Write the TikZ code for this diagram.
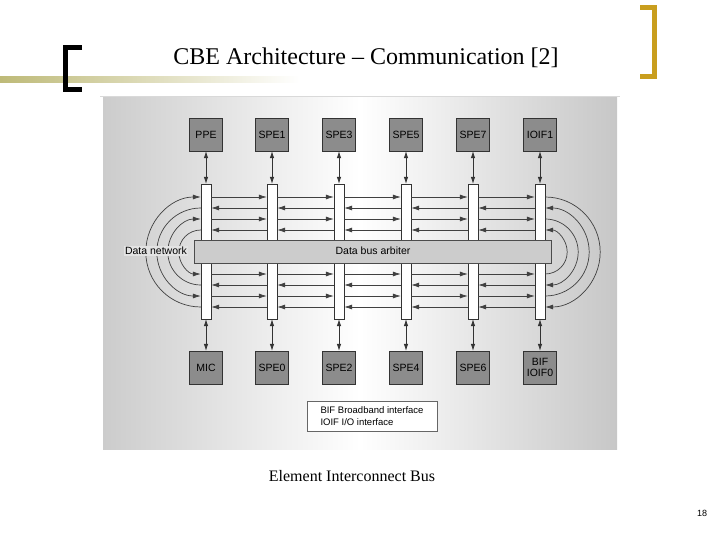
\documentclass[tikz,border=0pt]{standalone}
\usepackage{fontspec}
\setmainfont{Liberation Serif}
\newfontfamily\diagfont{Liberation Sans}
\usetikzlibrary{arrows.meta}
\definecolor{olivebar}{RGB}{190,186,120}
\definecolor{goldbr}{RGB}{201,158,30}
\definecolor{boxgray}{RGB}{140,140,140}
\tikzset{
  unit/.style={draw=black!80,fill=boxgray,minimum width=33pt,minimum height=33pt,
    inner sep=0pt,font=\diagfont\fontsize{10.5}{11.5}\selectfont,align=center},
  busbar/.style={draw=black!80,fill=white,minimum width=10pt,minimum height=135pt,inner sep=0pt},
  ring/.style={draw=black!75,line width=.7pt},
  tip/.style={-{Latex[length=8pt,width=5pt]}},
  twotip/.style={{Latex[length=7pt,width=4.5pt]}-{Latex[length=7pt,width=4.5pt]},draw=black!80,line width=.7pt}
}
\begin{document}
\begin{tikzpicture}[x=1pt,y=-1pt]
  \useasboundingbox (0,0) rectangle (720,540);

  % Titre et cadre
  \shade[left color=olivebar,right color=white] (0,77) rectangle (300,83);
  \draw[black!15,line width=.8pt] (100,96) -- (620,96);
  \draw[line width=5pt] (82,48) -- (65.5,48) -- (65.5,90) -- (82,90);
  \draw[goldbr,line width=5pt] (640,8) -- (654.5,8) -- (654.5,77) -- (640,77);
  \node (title) at (366,58) {\fontsize{24}{26}\selectfont CBE Architecture -- Communication [2]};

  % Fond du schéma
  \shade[left color=black!20,right color=black!22,middle color=white] (103,98) rectangle (617,449);

  % Unités, barres et flèches verticales
  \foreach \i/\x/\top/\bot in {1/206/PPE/MIC,2/272/SPE1/SPE0,3/339/SPE3/SPE2,
                               4/406/SPE5/SPE4,5/473/SPE7/SPE6,6/540/IOIF1/{BIF\\IOIF0}}{
    \node[unit] (t\i) at (\x,134.5) {\top};
    \node[unit] (b\i) at (\x,367.5) {\bot};
    \node[busbar] (bar\i) at (\x,251.5) {};
    \draw[twotip] (t\i.south) -- (bar\i.north);
    \draw[twotip] (bar\i.south) -- (b\i.north);
  }

  % Arbitre
  \node[draw=black!70,fill=black!20,minimum width=357pt,minimum height=23pt,inner sep=0pt]
    (arb) at (373,252) {};
  \node[font=\diagfont\fontsize{10.5}{11.5}\selectfont] (arbtxt) at (373,251) {Data bus arbiter};

  % Anneaux horizontaux
  \foreach \y in {197,219,274,296}{
    \foreach \i [evaluate=\i as \j using int(\i+1)] in {1,...,5}
      \draw[ring,tip] (bar\i.east |- 0,\y) -- (bar\j.west |- 0,\y);
  }
  \foreach \y in {208,230,285,307}{
    \foreach \i [evaluate=\i as \j using int(\i+1)] in {1,...,5}
      \draw[ring,tip] (bar\j.west |- 0,\y) -- (bar\i.east |- 0,\y);
  }

  % Retours à gauche
  \coordinate (L1) at (bar1.west |- 0,307);
  \coordinate (L2) at (bar1.west |- 0,208);
  \coordinate (L3) at (bar1.west |- 0,285);
  \coordinate (L4) at (bar1.west |- 0,230);
  \draw[ring,tip] (L1) arc[start angle=90,end angle=270,radius=55];
  \draw[ring,tip] (L2) arc[start angle=270,end angle=90,radius=44];
  \draw[ring,tip] (L3) arc[start angle=90,end angle=270,radius=33];
  \draw[ring,tip] (L4) arc[start angle=270,end angle=90,radius=22];

  % Retours à droite
  \coordinate (R1) at (bar6.east |- 0,197);
  \coordinate (R2) at (bar6.east |- 0,296);
  \coordinate (R3) at (bar6.east |- 0,219);
  \coordinate (R4) at (bar6.east |- 0,274);
  \draw[ring,tip] (R1) arc[start angle=270,end angle=450,radius=55];
  \draw[ring,tip] (R2) arc[start angle=90,end angle=-90,radius=44];
  \draw[ring,tip] (R3) arc[start angle=270,end angle=450,radius=33];
  \draw[ring,tip] (R4) arc[start angle=90,end angle=-90,radius=22];

  \node[fill=black!11,inner sep=1pt,font=\diagfont\fontsize{10.5}{11.5}\selectfont]
    (net) at (156,251) {Data network};

  % Légende
  \node[draw=black!60,fill=white,minimum width=130pt,minimum height=30pt,align=left,
    font=\diagfont\fontsize{9.5}{11.5}\selectfont] (key) at (372,416)
    {BIF Broadband interface\\IOIF I/O interface};

  \node (caption) at (352,476) {\fontsize{16}{18}\selectfont Element Interconnect Bus};
  \node[font=\diagfont\fontsize{9}{10}\selectfont] (page) at (702,513) {18};
\end{tikzpicture}
\end{document}
